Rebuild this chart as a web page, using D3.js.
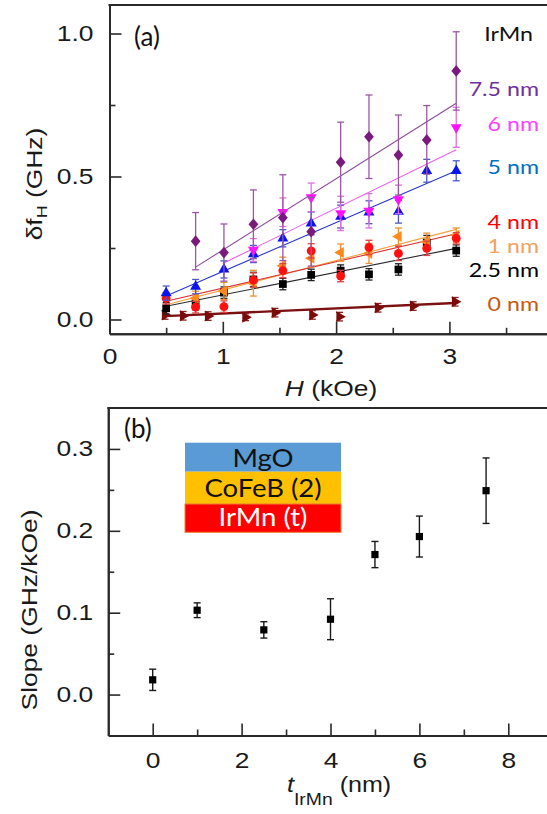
<!DOCTYPE html>
<html><head><meta charset="utf-8">
<script src="https://cdn.jsdelivr.net/npm/d3@7"></script>
<style>
html,body{margin:0;padding:0;background:#fff;}
svg{display:block;}
</style></head><body>
<svg id="fig" width="547" height="814"></svg>
<script>
// ---------- Panel (a): linewidth delta f_H versus field H, one series per IrMn thickness ----------
const h75 = [0.76, 1.01, 1.27, 1.53, 1.78, 2.04, 2.29, 2.55, 2.80, 3.06];
const df75 = [0.274, 0.234, 0.333, 0.356, 0.307, 0.550, 0.639, 0.575, 0.628, 0.869];
const er75 = [0.10, 0.10, 0.12, 0.15, 0.12, 0.14, 0.146, 0.14, 0.12, 0.137];

const h60 = [1.27, 1.53, 1.78, 2.04, 2.29, 2.55, 3.06];
const df60 = [0.243, 0.375, 0.427, 0.371, 0.380, 0.420, 0.672];
const er60 = [0.04, 0.05, 0.05, 0.06, 0.06, 0.05, 0.07];

const h50 = [0.50, 0.76, 1.01, 1.27, 1.53, 1.78, 2.04, 2.29, 2.55, 2.80, 3.06];
const df50 = [0.092, 0.115, 0.175, 0.229, 0.284, 0.336, 0.360, 0.375, 0.377, 0.520, 0.520];
const er50 = [0.025, 0.025, 0.03, 0.03, 0.03, 0.04, 0.04, 0.04, 0.04, 0.04, 0.035];

const h40 = [0.50, 0.76, 1.01, 1.27, 1.53, 1.78, 2.04, 2.29, 2.55, 2.80, 3.06];
const df40 = [0.074, 0.043, 0.045, 0.138, 0.171, 0.240, 0.152, 0.252, 0.231, 0.249, 0.284];
const er40 = [0.02, 0.02, 0.02, 0.025, 0.025, 0.025, 0.02, 0.025, 0.025, 0.025, 0.02];

const h10 = [0.76, 1.01, 1.27, 1.53, 1.78, 2.04, 2.29, 2.55, 2.80, 3.06];
const df10 = [0.074, 0.100, 0.127, 0.188, 0.214, 0.234, 0.231, 0.290, 0.272, 0.295];
const er10 = [0.025, 0.03, 0.045, 0.03, 0.03, 0.03, 0.035, 0.03, 0.03, 0.025];

const h25 = [0.50, 0.76, 1.01, 1.27, 1.53, 1.78, 2.04, 2.29, 2.55, 2.80, 3.06];
const df25 = [0.039, 0.054, 0.094, 0.140, 0.124, 0.156, 0.171, 0.158, 0.175, 0.269, 0.241];
const er25 = [0.02, 0.02, 0.02, 0.025, 0.02, 0.02, 0.02, 0.02, 0.02, 0.025, 0.02];

const h00 = [0.49, 0.65, 0.87, 1.20, 1.46, 1.79, 2.03, 2.37, 2.68, 3.05];
const df00 = [0.016, 0.013, 0.012, 0.008, 0.024, 0.016, 0.010, 0.041, 0.047, 0.062];
const er00 = [0.015, 0.015, 0.015, 0.012, 0.015, 0.015, 0.015, 0.015, 0.015, 0.015];

// Linear fits: intercept and field range per series (slopes are the panel (b) values)
const seriesNames = ["7.5 nm", "6 nm", "5 nm", "4 nm", "1 nm", "2.5 nm", "0 nm"];
const fitIntercept = [-0.006, 0.003, -0.003, 0.018, 0.0, 0.007, 0.003];
const fitStart = [0.76, 1.0, 0.5, 0.5, 0.5, 0.5, 0.49];
const fitEnd = [3.06, 3.06, 3.06, 3.06, 3.06, 3.06, 3.05];

// ---------- Panel (b): slope of delta f_H(H) versus IrMn thickness ----------
const tIrMn = [0, 1, 2.5, 4, 5, 6, 7.5];
const slopeVal = [0.018, 0.103, 0.079, 0.092, 0.171, 0.193, 0.249];
const slopeErr = [0.013, 0.009, 0.010, 0.025, 0.016, 0.025, 0.040];

const stackLayers = ["MgO", "CoFeB (2)", "IrMn (t)"];

// Tick values
const aXMajor = [0, 1, 2, 3], aXMinor = [0.5, 1.5, 2.5, 3.5];
const aYMajor = [0, 0.5, 1.0], aYMinor = [0.25, 0.75];
const bXMajor = [0, 2, 4, 6, 8], bXMinor = [1, 3, 5, 7];
const bYMajor = [0, 0.1, 0.2, 0.3], bYMinor = [0.05, 0.15, 0.25];

// ---------- styling ----------
const thkBySeries = [7.5, 6, 5, 4, 1, 2.5, 0];
const markerCol = ["#7a1a7c", "#ff10ff", "#0a14f0", "#ff1010", "#ff8a1c", "#000000", "#7c0a0a"];
const lineCol   = ["#8c4a9c", "#e860e8", "#2a36c8", "#d83030", "#f2a040", "#2a2a2a", "#7c1010"];
const errCol    = ["#9a58a2", "#e070e0", "#4a5ac8", "#e04040", "#f09030", "#222222", "#8a2020"];
const labelCol  = ["#7030a0", "#ff40ff", "#0070c0", "#ff0000", "#f4a160", "#000000", "#c55a11"];
const labelBase = [96, 131, 174, 229.5, 253.5, 277.5, 311];
const AX = "#2a2a2a";
const SANS = "'Liberation Sans', Arial, sans-serif";
const HUM = "Lato, 'Open Sans', sans-serif";
const WIDE = 1.2;

const svg = d3.select("#fig");

// custom marker shapes
const diamond = { draw(ctx, size) { const w = Math.sqrt(size) * 0.62, h = w * 1.2;
  ctx.moveTo(0, -h); ctx.lineTo(w, 0); ctx.lineTo(0, h); ctx.lineTo(-w, 0); ctx.closePath(); } };
const markerShape = [
  { type: diamond, size: 62, rot: 0 },
  { type: d3.symbolTriangle, size: 52, rot: 180 },
  { type: d3.symbolTriangle, size: 52, rot: 0 },
  { type: d3.symbolCircle, size: 62, rot: 0 },
  { type: d3.symbolTriangle, size: 52, rot: -90 },
  { type: d3.symbolSquare, size: 60, rot: 0 },
  { type: d3.symbolTriangle, size: 52, rot: 90 }
];

// wide-set lettering: scale text horizontally about its anchor point
function widen(sel, s) {
  sel.each(function () {
    const t = d3.select(this);
    const x = +t.attr("x") || 0, y = +t.attr("y") || 0;
    t.attr("transform", `translate(${x},${y}) scale(${s},1) translate(${-x},${-y})`);
  });
}

function frame(x, y, xMajor, xMinor, yMajor, yMinor, xFmt, yFmt, xPad, yPad) {
  const [x0, x1] = x.range(), [y0, y1] = y.range();
  const g = svg.append("g");
  // major / minor ticks, pointing inwards
  const xb = g.append("g").attr("transform", `translate(0,${y0})`)
    .call(d3.axisBottom(x).tickValues(xMajor).tickSizeInner(-12).tickSizeOuter(0).tickPadding(xPad).tickFormat(xFmt));
  g.append("g").attr("transform", `translate(0,${y0})`)
    .call(d3.axisBottom(x).tickValues(xMinor).tickSizeInner(-6).tickSizeOuter(0).tickFormat(""));
  const yl = g.append("g").attr("transform", `translate(${x0},0)`)
    .call(d3.axisLeft(y).tickValues(yMajor).tickSizeInner(-12).tickSizeOuter(0).tickPadding(yPad).tickFormat(yFmt));
  g.append("g").attr("transform", `translate(${x0},0)`)
    .call(d3.axisLeft(y).tickValues(yMinor).tickSizeInner(-6).tickSizeOuter(0).tickFormat(""));
  g.selectAll(".domain").attr("stroke", AX).attr("stroke-width", 2);
  g.selectAll(".tick line").attr("stroke", AX).attr("stroke-width", 1.6);
  g.selectAll(".tick text").attr("font-family", SANS).attr("font-size", 22).attr("fill", "#1a1a1a");
  widen(xb.selectAll(".tick text"), WIDE);
  widen(yl.selectAll(".tick text"), WIDE);
  // top border
  g.append("line").attr("x1", x0 - 1).attr("x2", x1 + 2).attr("y1", y1).attr("y2", y1)
    .attr("stroke", AX).attr("stroke-width", 2);
  return g;
}

// ======================= Panel (a) =======================
const xA = d3.scaleLinear().domain([0, 3.9]).range([109.5, 551.4]);
const yA = d3.scaleLinear().domain([-0.05, 1.1]).range([333.8, 4.9]);
frame(xA, yA, aXMajor, aXMinor, aYMajor, aYMinor, d3.format("d"), d3.format(".1f"), 15, 16);

const seriesA = [
  [h75, df75, er75], [h60, df60, er60], [h50, df50, er50], [h40, df40, er40],
  [h10, df10, er10], [h25, df25, er25], [h00, df00, er00]
].map(([h, v, e], i) => ({
  name: seriesNames[i], idx: i,
  slope: slopeVal[tIrMn.indexOf(thkBySeries[i])],
  pts: h.map((hh, j) => ({ h: hh, v: v[j], e: e[j] }))
}));

const drawOrder = [6, 5, 4, 3, 2, 1, 0];
const gA = svg.append("g");

// fitted lines
drawOrder.forEach(i => {
  const s = seriesA[i];
  const f = hh => fitIntercept[i] + s.slope * hh;
  gA.append("line")
    .attr("x1", xA(fitStart[i])).attr("y1", yA(f(fitStart[i])))
    .attr("x2", xA(fitEnd[i])).attr("y2", yA(f(fitEnd[i])))
    .attr("stroke", lineCol[i]).attr("stroke-width", i === 6 ? 2.4 : 1.1);
});

// error bars and markers
drawOrder.forEach(i => {
  const s = seriesA[i];
  const eg = gA.append("g").attr("stroke", errCol[i]).attr("stroke-width", 1.3);
  s.pts.forEach(p => {
    const cx = xA(p.h);
    eg.append("line").attr("x1", cx).attr("x2", cx).attr("y1", yA(p.v - p.e)).attr("y2", yA(p.v + p.e));
    [p.v - p.e, p.v + p.e].forEach(vv =>
      eg.append("line").attr("x1", cx - 3.5).attr("x2", cx + 3.5).attr("y1", yA(vv)).attr("y2", yA(vv)));
  });
  const m = markerShape[i];
  const sym = d3.symbol().type(m.type).size(m.size);
  gA.append("g").selectAll("path").data(s.pts).join("path")
    .attr("d", sym)
    .attr("transform", p => `translate(${xA(p.h)},${yA(p.v)}) rotate(${m.rot})`)
    .attr("fill", markerCol[i]);
});

// thickness labels
const legTexts = [];
legTexts.push(svg.append("text").attr("x", 533).attr("y", 41).attr("text-anchor", "end")
  .attr("font-family", HUM).attr("font-size", 20).attr("fill", "#111").text("IrMn"));
seriesNames.forEach((n, i) => {
  legTexts.push(svg.append("text").attr("x", 539).attr("y", labelBase[i]).attr("text-anchor", "end")
    .attr("font-family", HUM).attr("font-size", 20).attr("fill", labelCol[i]).text(n));
});
legTexts.forEach(t => widen(t, 1.16));

const aLab = svg.append("text").attr("x", 134).attr("y", 46).attr("font-family", HUM).attr("font-size", 26)
  .attr("fill", "#111").text("(a)");

// axis titles (a)
const xtA = svg.append("text").attr("x", 331).attr("y", 396).attr("text-anchor", "middle")
  .attr("font-family", SANS).attr("font-size", 22).attr("fill", "#1a1a1a");
xtA.append("tspan").attr("font-style", "italic").text("H");
xtA.append("tspan").text(" (kOe)");
widen(xtA, WIDE);

const ytA = svg.append("text").attr("text-anchor", "middle")
  .attr("transform", `translate(42,184) rotate(-90) scale(${WIDE},1)`)
  .attr("font-family", SANS).attr("font-size", 22).attr("fill", "#1a1a1a");
ytA.append("tspan").text("δf");
ytA.append("tspan").attr("font-size", 15).attr("dy", 5).text("H");
ytA.append("tspan").attr("dy", -5).text(" (GHz)");

// ======================= Panel (b) =======================
const xB = d3.scaleLinear().domain([-1, 9]).range([108.25, 552.75]);
const yB = d3.scaleLinear().domain([-0.05, 0.35]).range([735.5, 408]);
frame(xB, yB, bXMajor, bXMinor, bYMajor, bYMinor, d3.format("d"), d3.format(".1f"), 17, 15);

const ptsB = tIrMn.map((t, i) => ({ t, v: slopeVal[i], e: slopeErr[i] }));
const gB = svg.append("g");
const ebB = gB.append("g").attr("stroke", "#1a1a1a").attr("stroke-width", 1.4);
ptsB.forEach(p => {
  const cx = xB(p.t);
  ebB.append("line").attr("x1", cx).attr("x2", cx).attr("y1", yB(p.v - p.e)).attr("y2", yB(p.v + p.e));
  [p.v - p.e, p.v + p.e].forEach(vv =>
    ebB.append("line").attr("x1", cx - 3.5).attr("x2", cx + 3.5).attr("y1", yB(vv)).attr("y2", yB(vv)));
});
gB.selectAll("path.pt").data(ptsB).join("path").attr("class", "pt")
  .attr("d", d3.symbol().type(d3.symbolSquare).size(52))
  .attr("transform", p => `translate(${xB(p.t)},${yB(p.v)})`)
  .attr("fill", "#000");

svg.append("text").attr("x", 124).attr("y", 438).attr("font-family", HUM).attr("font-size", 26)
  .attr("fill", "#111").text("(b)");

// layer stack sketch
const stackFill = ["#5b9bd5", "#ffc000", "#ff0000"];
const stackText = ["#111", "#111", "#ffffff"];
const stackTop = [442.7, 471.7, 504], stackBot = [471.7, 504, 532.3];
const stackBase = [467, 497, 526];
stackLayers.forEach((name, i) => {
  svg.append("rect").attr("x", 185).attr("y", stackTop[i]).attr("width", 156)
    .attr("height", stackBot[i] - stackTop[i]).attr("fill", stackFill[i])
    .attr("stroke", i === 2 ? "#ed7d31" : "none").attr("stroke-width", 1);
  const t = svg.append("text").attr("x", 263).attr("y", stackBase[i]).attr("text-anchor", "middle")
    .attr("font-family", HUM).attr("font-size", 25).attr("fill", stackText[i]).text(name);
  widen(t, 1.1);
});

// axis titles (b)
const xtB = svg.append("text").attr("x", 287).attr("y", 792)
  .attr("font-family", SANS).attr("font-size", 22).attr("fill", "#1a1a1a");
xtB.append("tspan").attr("font-style", "italic").text("t");
xtB.append("tspan").attr("font-size", 17).attr("dy", 13).text("IrMn");
xtB.append("tspan").attr("dy", -13).text(" (nm)");
widen(xtB, 1.14);

svg.append("text").attr("text-anchor", "middle")
  .attr("transform", `translate(37,610) rotate(-90) scale(${WIDE},1)`)
  .attr("font-family", SANS).attr("font-size", 22).attr("fill", "#1a1a1a")
  .text("Slope (GHz/kOe)");
</script>
</body></html>
